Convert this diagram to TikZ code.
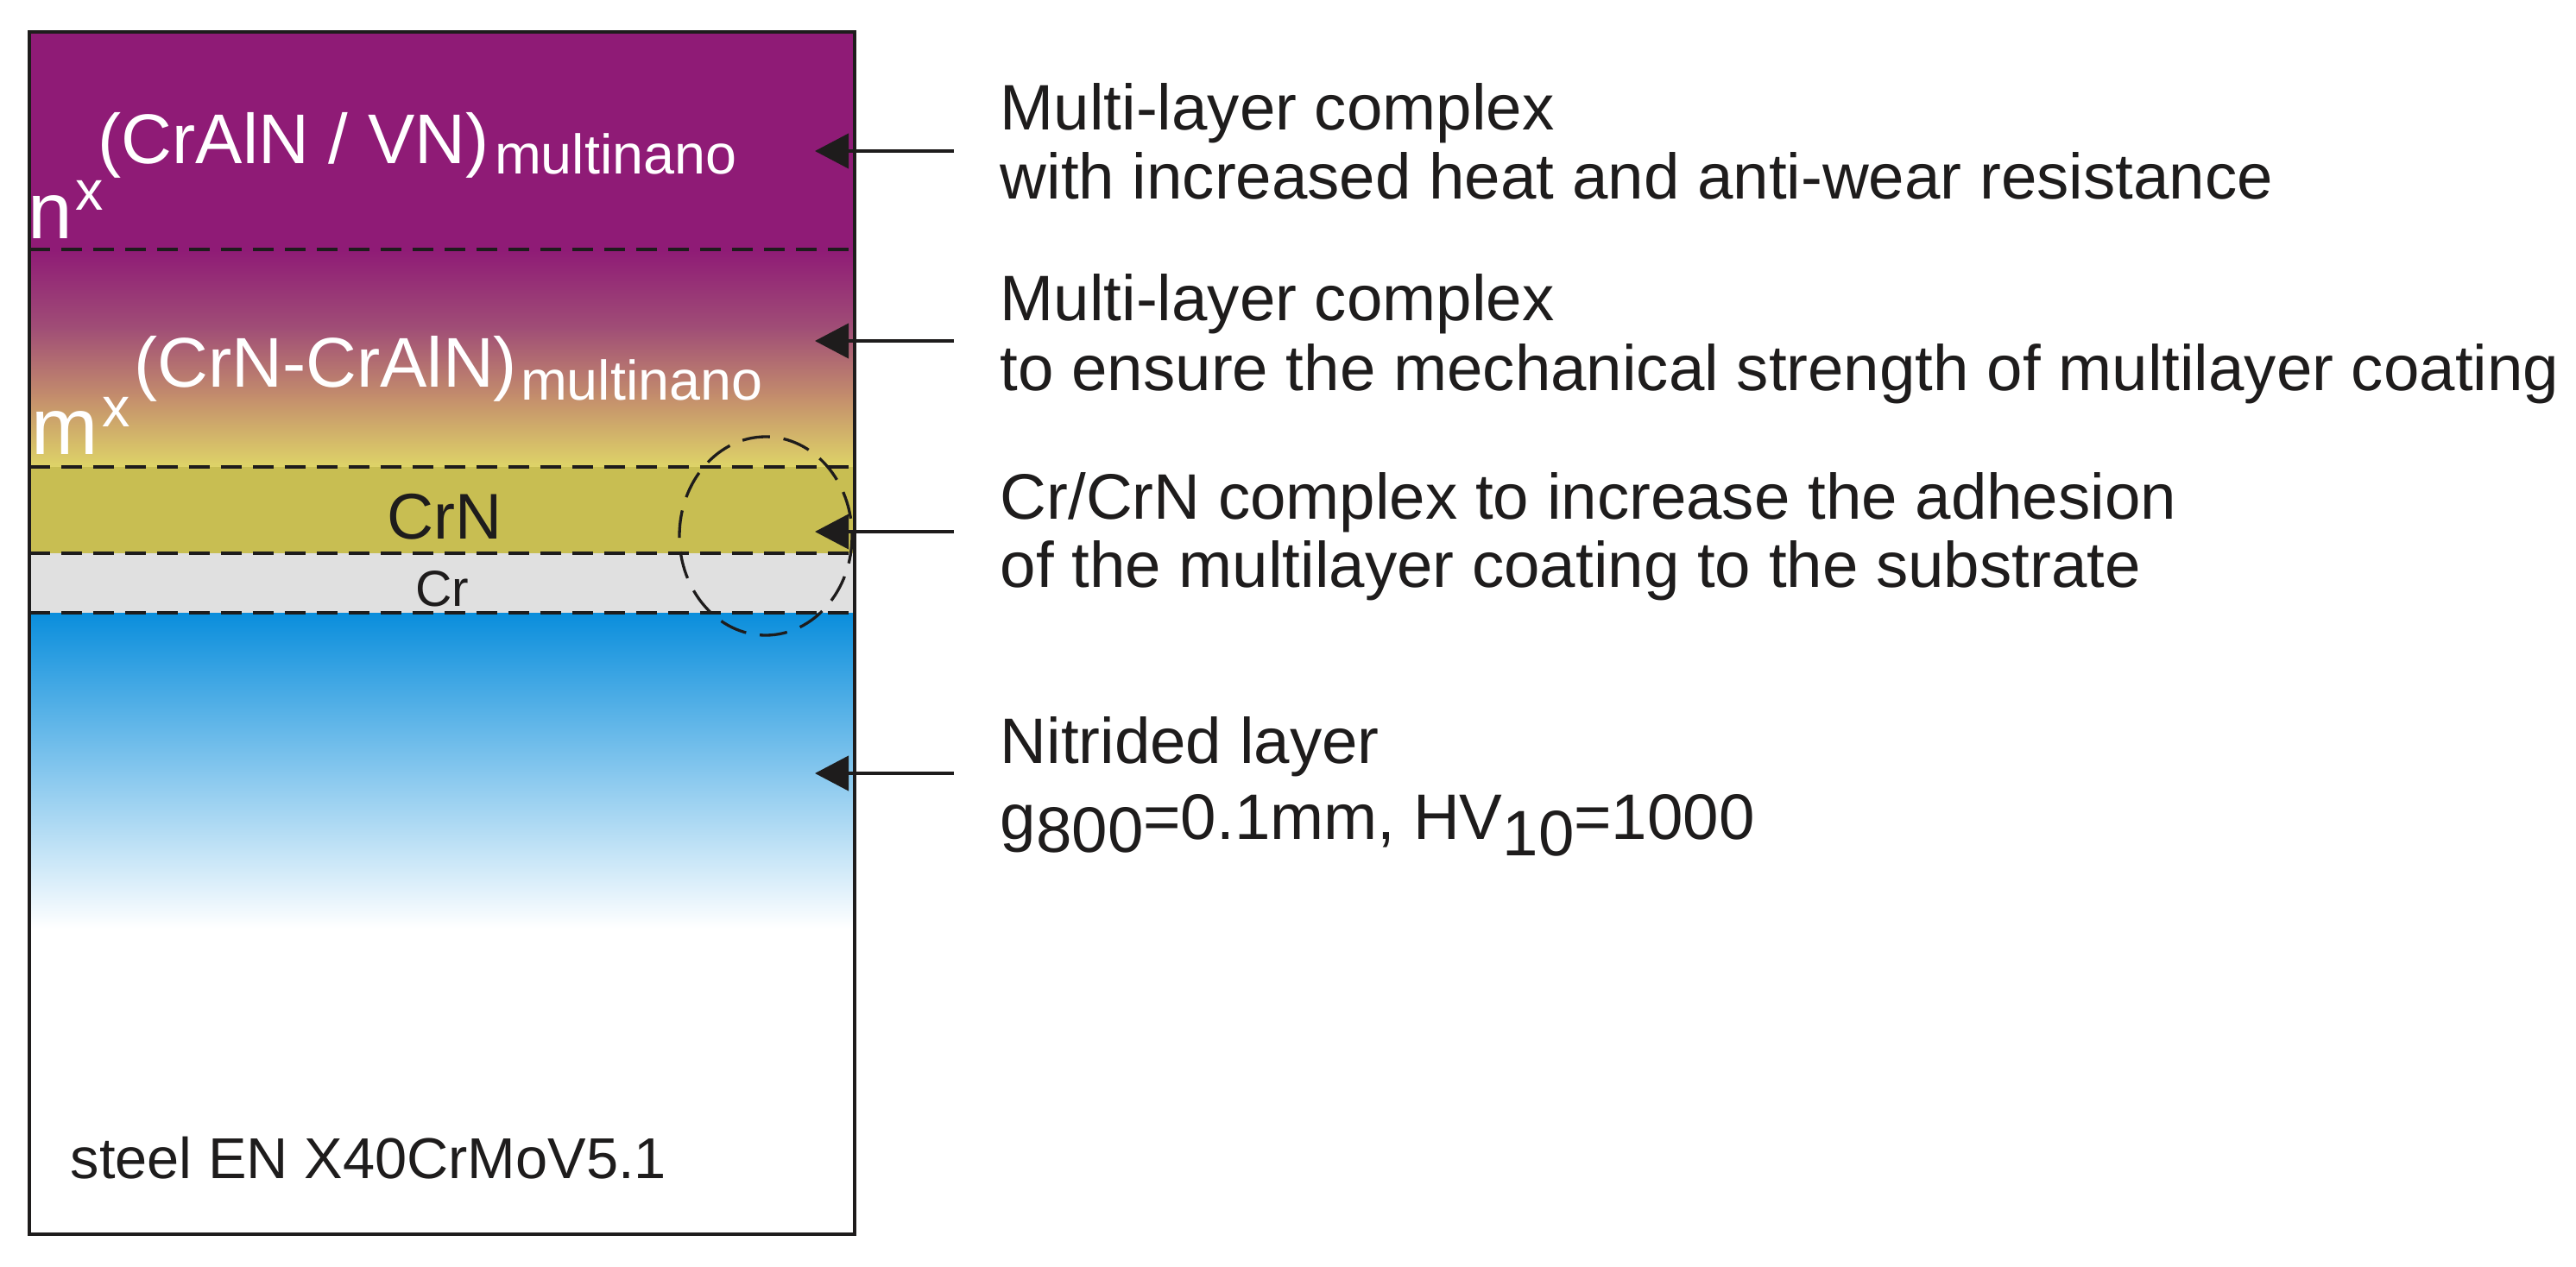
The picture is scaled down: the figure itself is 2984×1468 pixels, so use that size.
\documentclass[tikz,border=0pt]{standalone}
\usepackage{fontspec}
\setmainfont{Liberation Sans}
\usetikzlibrary{arrows.meta}
\definecolor{purp}{RGB}{143,27,118}
\definecolor{mauve}{RGB}{160,78,118}
\definecolor{tan}{RGB}{196,142,108}
\definecolor{yel}{RGB}{222,212,104}
\definecolor{olive}{RGB}{200,190,82}
\definecolor{crgrey}{RGB}{224,224,224}
\definecolor{nitblue}{RGB}{10,142,220}
\definecolor{ink}{RGB}{30,28,28}
\begin{document}
\begin{tikzpicture}[
  x=0.1mm, y=-0.1mm,
  layerline/.style={draw=ink, line width=0.36mm, dash pattern=on 2.4mm off 1.3mm},
  pointer/.style={draw=ink, line width=0.4mm, -{Triangle[length=3.9mm, width=4mm]}},
  desc/.style={anchor=base west, inner sep=0pt, text=ink, font=\fontsize{21.2}{24}\selectfont},
  coat/.style={anchor=base west, inner sep=0pt, text=white},
  layername/.style={anchor=base, inner sep=0pt, text=ink}
]
\useasboundingbox (0,0) rectangle (2984,1468);
% layers of the coating
\fill[purp] (34,37) rectangle (990,290);
\shade[top color=purp, bottom color=mauve] (34,289) rectangle (990,381);
\shade[top color=mauve, bottom color=tan] (34,380) rectangle (990,461);
\shade[top color=tan, bottom color=yel] (34,460) rectangle (990,541);
\fill[olive] (34,541) rectangle (990,641);
\fill[crgrey] (34,641) rectangle (990,710);
\shade[top color=nitblue, bottom color=white] (34,710) rectangle (990,1076);
% boundaries
\draw[layerline] (34,289) -- (990,289);
\draw[layerline] (34,541) -- (990,541);
\draw[layerline] (34,641) -- (990,641);
\draw[layerline] (34,710) -- (990,710);
% labels inside
\node[coat] (nlab) at (32,276) {{\fontsize{26.4}{28}\selectfont n}\hspace{0.3mm}\raisebox{3.3mm}{\fontsize{18.4}{20}\selectfont x}\hspace{-0.6mm}\raisebox{8.7mm}{\fontsize{23.2}{26}\selectfont (CrAlN / VN)}\hspace{0.65mm}\raisebox{7.5mm}{\fontsize{18.4}{20}\selectfont multinano}};
\node[coat] (mlab) at (36,526) {{\fontsize{26.4}{28}\selectfont m}\hspace{0.5mm}\raisebox{3.2mm}{\fontsize{18.4}{20}\selectfont x}\hspace{0.4mm}\raisebox{7.8mm}{\fontsize{23.2}{26}\selectfont (CrN-CrAlN)}\hspace{0.4mm}\raisebox{6.3mm}{\fontsize{18.4}{20}\selectfont multinano}};
\node[layername, font=\fontsize{21.3}{24}\selectfont] (crn) at (515,624) {CrN};
\node[layername, font=\fontsize{16.7}{19}\selectfont] (cr) at (512,702) {Cr};
\node[anchor=base west, inner sep=0pt, text=ink, font=\fontsize{19}{21}\selectfont] (steel) at (81,1365) {steel EN X40CrMoV5.1};
% sample outline
\draw[draw=ink, line width=0.45mm] (34,37) rectangle (990,1430);
\draw[draw=ink, line width=0.33mm, dash pattern=on 3.2mm off 1.6mm] (887,621) ellipse [x radius=100, y radius=115];
% descriptions
\node[desc] (descA1) at (1158,150) {Multi-layer complex};
\node[desc] (descA2) at (1158,230) {with increased heat and anti-wear resistance};
\node[desc] (descB1) at (1158,371) {Multi-layer complex};
\node[desc] (descB2) at (1158,452) {to ensure the mechanical strength of multilayer coating};
\node[desc] (descC1) at (1158,601) {Cr/CrN complex to increase the adhesion};
\node[desc] (descC2) at (1158,680) {of the multilayer coating to the substrate};
\node[desc] (descD1) at (1158,884) {Nitrided layer};
\node[desc] (descD2) at (1158,972) {g\raisebox{-1.5mm}{800}=0.1mm, HV\raisebox{-1.9mm}{10}=1000};
% pointers
\coordinate (tailA) at (1105,175); \coordinate (tipA) at (944,175);
\coordinate (tailB) at (1105,395); \coordinate (tipB) at (944,395);
\coordinate (tailC) at (1105,616); \coordinate (tipC) at (944,616);
\coordinate (tailD) at (1105,896); \coordinate (tipD) at (944,896);
\draw[pointer] (tailA) -- (tipA);
\draw[pointer] (tailB) -- (tipB);
\draw[pointer] (tailC) -- (tipC);
\draw[pointer] (tailD) -- (tipD);
\end{tikzpicture}
\end{document}
